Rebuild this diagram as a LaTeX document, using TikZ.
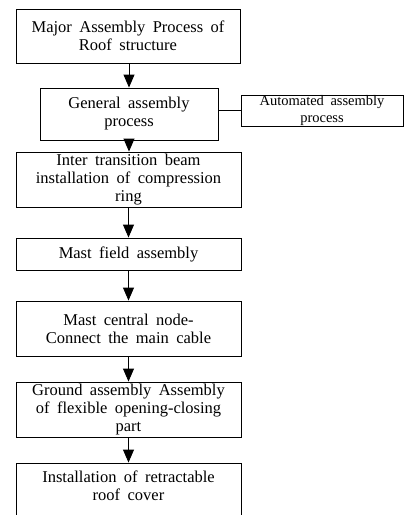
\documentclass[tikz,border=0pt]{standalone}
\usepackage{fontspec}
\setmainfont{Liberation Serif}[WordSpace=1.8]
\usetikzlibrary{arrows.meta}

\tikzset{
  stepbox/.style={draw=black, line width=0.9pt, align=center, inner sep=0pt,
    font=\fontsize{16.5}{18}\selectfont},
  sidebox/.style={draw=black, line width=0.9pt, align=center, inner sep=0pt,
    font=\fontsize{14.5}{16.5}\selectfont},
  flow/.style={draw=black, line width=0.9pt, -{Triangle[width=11pt,length=13pt]}},
}

\begin{document}
\begin{tikzpicture}[x=1pt,y=-1pt]
	\useasboundingbox (0,0) rectangle (404,515);
	% main chain of the roof assembly
	\node[stepbox, minimum width=224pt, minimum height=54pt] (major) at (128,36) {Major Assembly Process of\\Roof structure};
	\node[stepbox, minimum width=178pt, minimum height=52pt] (general) at (129,114) {General assembly\\process};
	\node[sidebox, minimum width=162pt, minimum height=31pt] (auto) at (322,110.5) {Automated assembly\\process};
	\node[stepbox, minimum width=225pt, minimum height=55pt] (beam) at (128.5,179.5) {Inter transition beam\\installation of compression\\ring};
	\node[stepbox, minimum width=225pt, minimum height=32pt] (mast) at (128.5,254) {Mast field assembly};
	\node[stepbox, minimum width=225pt, minimum height=55pt] (cable) at (128.5,328.5) {Mast central node-\\Connect the main cable};
	\node[stepbox, minimum width=225pt, minimum height=55pt] (ground) at (128.5,409.5) {Ground assembly Assembly\\of flexible opening-closing\\part};
	\node[stepbox, minimum width=225pt, minimum height=56pt, text depth=10pt] (cover) at (128.5,491) {Installation of retractable\\roof cover};
	% connectors
	\draw[flow] (major.south -| general.north) -- (general.north);
	\draw[flow] (general) -- (beam.north -| general.south);
	\draw[flow] (beam) -- (mast);
	\draw[flow] (mast) -- (cable);
	\draw[flow] (cable) -- (ground);
	\draw[flow] (ground) -- (cover);
	\draw[line width=0.9pt] (auto.west) -- (auto.west -| general.east);
\end{tikzpicture}
\end{document}
